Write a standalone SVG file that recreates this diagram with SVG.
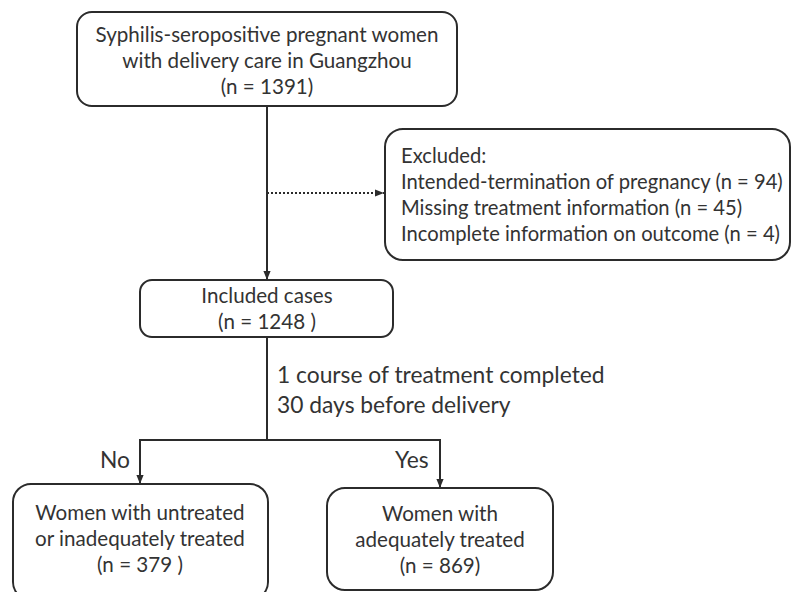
<svg xmlns="http://www.w3.org/2000/svg" width="800" height="592" viewBox="0 0 800 592">
<style>
.box{fill:#fff;stroke:#2b2b2b;stroke-width:2}
.t{font-family:Lato,"Open Sans","Liberation Sans",sans-serif;font-size:20.6px;fill:#333}
.x{font-size:20.2px}
.b{font-size:22.8px}
.c{text-anchor:middle}
.ln{fill:none;stroke:#2b2b2b;stroke-width:2}
</style>
<defs>
<marker id="ah2" viewBox="0 0 10 10" refX="10" refY="5" markerWidth="9" markerHeight="9" orient="auto" markerUnits="userSpaceOnUse"><path d="M0,1 L10,5 L0,9 z" fill="#2b2b2b"/></marker>
</defs>
<rect width="800" height="592" fill="#fff"/>
<g id="connectors">
<line class="ln" x1="267" y1="106" x2="267" y2="280" marker-end="url(#ah2)"/>
<line class="ln" x1="267" y1="193" x2="384" y2="193" stroke-dasharray="2,2" marker-end="url(#ah2)"/>
<line class="ln" x1="267" y1="337" x2="267" y2="440"/>
<polyline class="ln" points="140,440 440,440"/>
<line class="ln" x1="140" y1="439" x2="140" y2="484" marker-end="url(#ah2)"/>
<line class="ln" x1="440" y1="439" x2="440" y2="488" marker-end="url(#ah2)"/>
<text class="t b" x="277" y="383">1 course of treatment completed</text>
<text class="t b" x="277" y="413">30 days before delivery</text>
<text class="t b" x="100" y="468">No</text>
<text class="t b" x="395" y="468">Yes</text>
</g>
<g id="n1">
<rect class="box" x="77" y="12" width="380" height="94" rx="15"/>
<text class="t c" x="267" y="42">Syphilis-seropositive pregnant women</text>
<text class="t c" x="267" y="68">with delivery care in Guangzhou</text>
<text class="t c" x="267" y="94">(n = 1391)</text>
</g>
<g id="excluded">
<rect class="box" x="385" y="129" width="405" height="131" rx="18"/>
<text class="t x" x="401" y="163">Excluded:</text>
<text class="t x" x="401" y="189">Intended-termination of pregnancy (n = 94)</text>
<text class="t x" x="401" y="215">Missing treatment information (n = 45)</text>
<text class="t x" x="401" y="241">Incomplete information on outcome (n = 4)</text>
</g>
<g id="included">
<rect class="box" x="140" y="280" width="253" height="57" rx="12"/>
<text class="t c" x="267" y="303">Included cases</text>
<text class="t c" x="267" y="329">(n = 1248 )</text>
</g>
<g id="no">
<rect class="box" x="13" y="484" width="255" height="116" rx="18"/>
<text class="t c" x="140" y="520">Women with untreated</text>
<text class="t c" x="140" y="546">or inadequately treated</text>
<text class="t c" x="140" y="572">(n = 379 )</text>
</g>
<g id="yes">
<rect class="box" x="327" y="488" width="226" height="102" rx="18"/>
<text class="t c" x="440" y="521">Women with</text>
<text class="t c" x="440" y="547">adequately treated</text>
<text class="t c" x="440" y="573">(n = 869)</text>
</g>
</svg>
